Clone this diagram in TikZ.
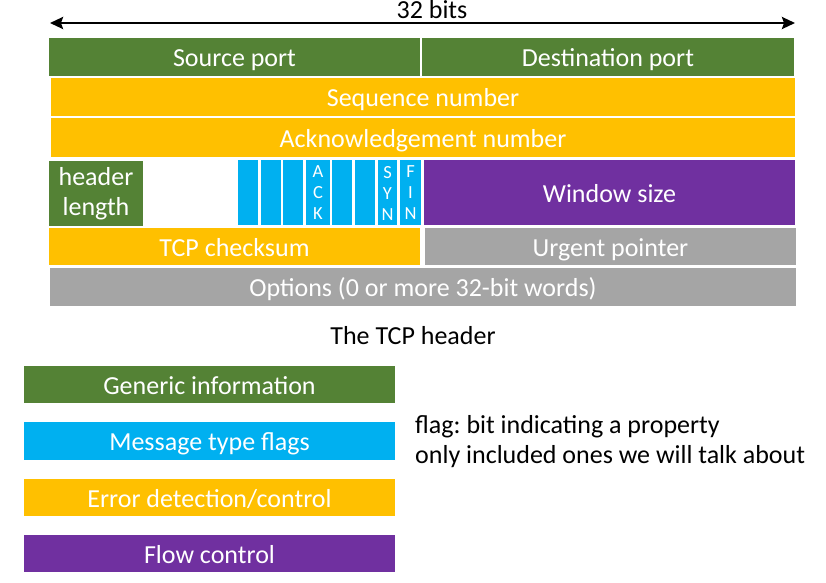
\documentclass[tikz,border=0pt]{standalone}
\usepackage{fontspec}
\setmainfont{Carlito}
\usetikzlibrary{arrows.meta}
\definecolor{gengreen}{HTML}{548235}
\definecolor{flagblue}{HTML}{00B0F0}
\definecolor{erryellow}{HTML}{FFC000}
\definecolor{flowpurple}{HTML}{7030A0}
\definecolor{optgray}{HTML}{A5A5A5}
\tikzset{field/.style n args={3}{fill=#1,minimum width=#2pt,minimum height=#3pt,inner sep=0pt,text=white,align=center,font=\fontsize{26}{30}\selectfont},
  oneline/.style={text height=20pt,text depth=1pt},
  flagtxt/.style={text=white,inner sep=0pt,align=center,font=\fontsize{18.5}{21}\selectfont},
  plain/.style={inner sep=0pt,font=\fontsize{26}{30}\selectfont}}
\frenchspacing

\begin{document}
\begin{tikzpicture}[x=1pt,y=-1pt,line join=round]
\useasboundingbox (0,0) rectangle (826,582);
% --- width arrow
\coordinate (wl) at (50,23); \coordinate (wr) at (795,23);
\draw[{Stealth[length=13pt,width=12pt,inset=2pt]}-{Stealth[length=13pt,width=12pt,inset=2pt]},line width=2.5pt] (wl) -- (wr);
\node[plain,anchor=base] (bits) at (432,18) {32 bits};
% --- header rows
\node[field={gengreen}{371}{38},oneline] (src) at (234.5,57) {Source port};
\node[field={gengreen}{372}{38},oneline] (dst) at (608,57) {Destination port};
\node[field={erryellow}{744}{38},oneline] (seq) at (423,97) {Sequence number};
\node[field={erryellow}{744}{39},oneline] (ack) at (423,137.5) {Acknowledgement number};
\node[field={gengreen}{94}{65}] (hlen) at (96,193.5) {header\\length};
\foreach \a/\b in {238/258,261/281,283/303,306/330,332/352,355/375,378/397,400/421}
  \fill[flagblue] (\a,160) rectangle (\b,225);
\node[flagtxt] (fack) at (318,193) {A\\C\\K};
\node[flagtxt] (fsyn) at (387.5,193) {S\\Y\\N};
\node[flagtxt] (ffin) at (410.5,193) {F\\I\\N};
\node[field={flowpurple}{371}{65},oneline] (win) at (609.5,192.5) {Window size};
\node[field={erryellow}{371}{37},oneline] (cks) at (234.5,246.5) {TCP checksum};
\node[field={optgray}{371}{37},oneline] (urg) at (610.5,246.5) {Urgent pointer};
\node[field={optgray}{746}{38},oneline] (opt) at (423,287) {Options (0 or more 32-bit words)};
\node[plain] (capt) at (413,336) {The TCP header};
% --- legend
\node[field={gengreen}{371}{37},oneline] (gen) at (209.5,384.5) {Generic information};
\node[field={flagblue}{371}{38},oneline] (msg) at (209.5,441) {Message type flags};
\node[field={erryellow}{371}{37},oneline] (err) at (209.5,497.5) {Error detection/control};
\node[field={flowpurple}{371}{37},oneline] (flow) at (209.5,553.5) {Flow control};
\node[plain,anchor=west,align=left] (note) at (415,442) {flag: bit indicating a property\\only included ones we will talk about};
\end{tikzpicture}
\end{document}
